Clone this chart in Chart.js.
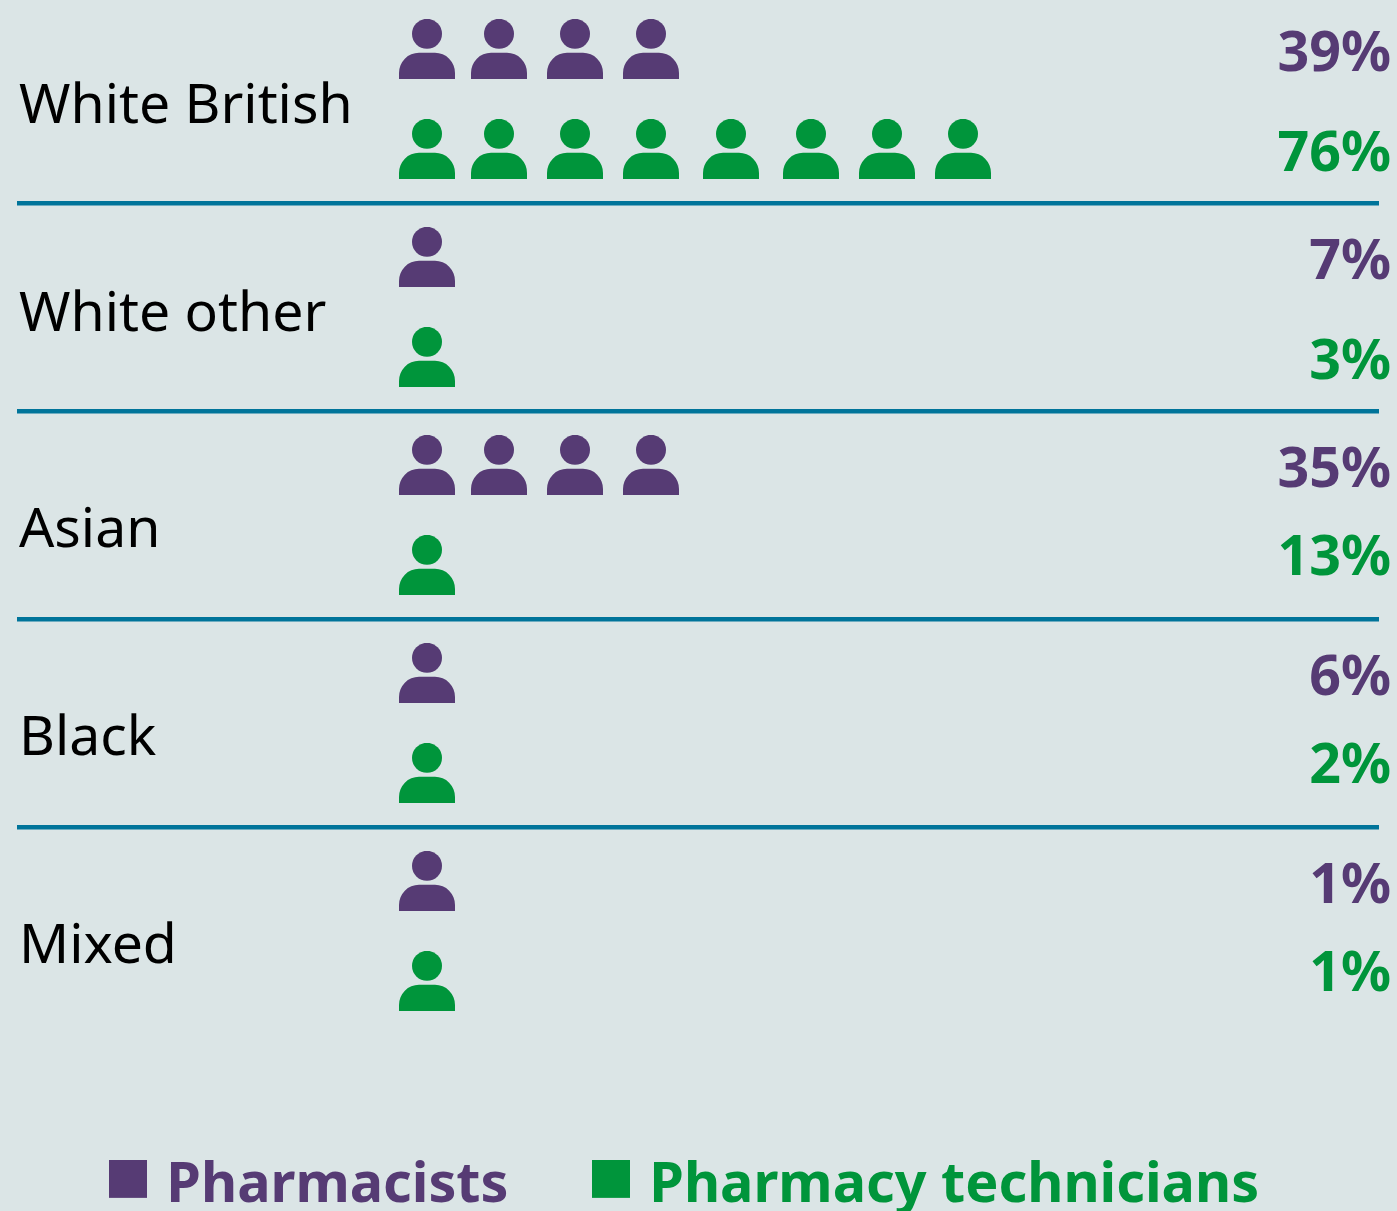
<!DOCTYPE html>
<html>
<head>
<meta charset="utf-8">
<style>html,body{margin:0;padding:0;background:#dbe5e6}canvas{display:block}</style>
<script src="https://cdn.jsdelivr.net/npm/chart.js@4"></script>
</head>
<body>
<canvas id="c" width="1397" height="1211"></canvas>
<script>
const groups = ['White British', 'White other', 'Asian', 'Black', 'Mixed'];
const pharmacistPct = [39, 7, 35, 6, 1];
const technicianPct = [76, 3, 13, 2, 1];
const pharmacistIcons = [4, 1, 4, 1, 1];
const technicianIcons = [8, 1, 1, 1, 1];
const seriesNames = ['Pharmacists', 'Pharmacy technicians'];
const PURPLE = '#563b74', GREEN = '#00953b', RULE = '#00749a', BG = '#dbe5e6';
// horizontal slot of the n-th icon, in "icon widths"
const iconSlots = [0, 0.9, 1.85, 2.8, 3.8, 4.8, 5.75, 6.7];
// vertical: one unit per group
const technicianRow = 100 / 208;
const separators = [0.74, 1.74, 2.74, 3.74];
const nameOffset = [0.355, 0.355, 0.394, 0.394, 0.394];   // baseline offset of group names
const techLabelOffset = [0.5865, 0.5865, 0.5289, 0.5289, 0.5289]; // baseline offset of technician %

function makeIcon(color) {
  const k = document.createElement('canvas');
  k.width = 56; k.height = 60;
  const g = k.getContext('2d');
  g.fillStyle = color;
  g.beginPath(); g.arc(28, 14.8, 15, 0, Math.PI * 2); g.fill();
  g.beginPath();
  g.moveTo(0, 60);
  g.lineTo(0, 54);
  g.ellipse(20, 54, 20, 20.3, 0, Math.PI, 1.5 * Math.PI);
  g.lineTo(36, 33.7);
  g.ellipse(36, 54, 20, 20.3, 0, 1.5 * Math.PI, 2 * Math.PI);
  g.lineTo(56, 60);
  g.closePath(); g.fill();
  return k;
}
function makeSwatch(color) {
  const k = document.createElement('canvas');
  k.width = 38; k.height = 52;
  const g = k.getContext('2d');
  g.fillStyle = color; g.fillRect(0, 0, 38, 38);
  return k;
}
function iconPoints(counts, offset) {
  const pts = [];
  counts.forEach((n, i) => { for (let s = 0; s < n; s++) pts.push({ x: iconSlots[s], y: i + offset }); });
  return pts;
}
const swatches = [makeSwatch(PURPLE), makeSwatch(GREEN)];

const textPlugin = {
  id: 'pictogramText',
  afterLayout(chart) {
    const l = chart.legend;
    l.left = 25.5; l.top = 1066; l.bottom = 1211; l.right = 1397; l.width = 1371.5; l.height = 145;
  },
  beforeDraw(chart) {
    const c = chart.ctx; c.save(); c.fillStyle = BG; c.fillRect(0, 0, chart.width, chart.height); c.restore();
  },
  afterDatasetsDraw(chart) {
    const c = chart.ctx, y = chart.scales.y, a = chart.chartArea;
    c.save();
    c.textBaseline = 'alphabetic';
    groups.forEach((name, i) => {
      c.font = '55.35px "Noto Sans"'; c.fillStyle = '#000'; c.textAlign = 'left';
      c.fillText(name, a.left + 2, y.getPixelForValue(i + nameOffset[i]));
      c.font = 'bold 55.5px "Noto Sans"'; c.textAlign = 'right';
      c.fillStyle = PURPLE;
      c.fillText(pharmacistPct[i] + '%', a.right + 12, y.getPixelForValue(i + 0.1058));
      c.fillStyle = GREEN;
      c.fillText(technicianPct[i] + '%', a.right + 12, y.getPixelForValue(i + techLabelOffset[i]));
    });
    c.restore();
  }
};

new Chart(document.getElementById('c'), {
  type: 'scatter',
  data: {
    datasets: [
      { label: seriesNames[0], data: iconPoints(pharmacistIcons, 0), pointStyle: makeIcon(PURPLE), backgroundColor: PURPLE, borderColor: PURPLE },
      { label: seriesNames[1], data: iconPoints(technicianIcons, technicianRow), pointStyle: makeIcon(GREEN), backgroundColor: GREEN, borderColor: GREEN }
    ]
  },
  plugins: [textPlugin],
  options: {
    responsive: false,
    animation: false,
    events: [],
    layout: { padding: { left: 17, right: 18, top: 0, bottom: 0 } },
    scales: {
      x: { type: 'linear', min: -5.125, max: 11.9, display: false },
      y: {
        type: 'linear', reverse: true, min: -0.2115, max: 5.1058,
        afterBuildTicks(s) { s.ticks = separators.map(v => ({ value: v })); },
        ticks: { display: false },
        border: { display: false },
        grid: { color: RULE, lineWidth: 4.6, drawTicks: false, tickLength: 0 }
      }
    },
    plugins: {
      tooltip: { enabled: false },
      legend: {
        position: 'bottom', align: 'start', maxHeight: 100,
        labels: {
          usePointStyle: true, pointStyleWidth: 21, boxHeight: 38, padding: 92,
          font: { family: '"Noto Sans"', size: 55.7, weight: 'bold' },
          generateLabels: () => seriesNames.map((t, i) => ({
            text: t, fontColor: i ? GREEN : PURPLE, fillStyle: i ? GREEN : PURPLE,
            strokeStyle: 'transparent', lineWidth: 0, pointStyle: swatches[i], datasetIndex: i
          }))
        }
      }
    }
  }
});
</script>
</body>
</html>
